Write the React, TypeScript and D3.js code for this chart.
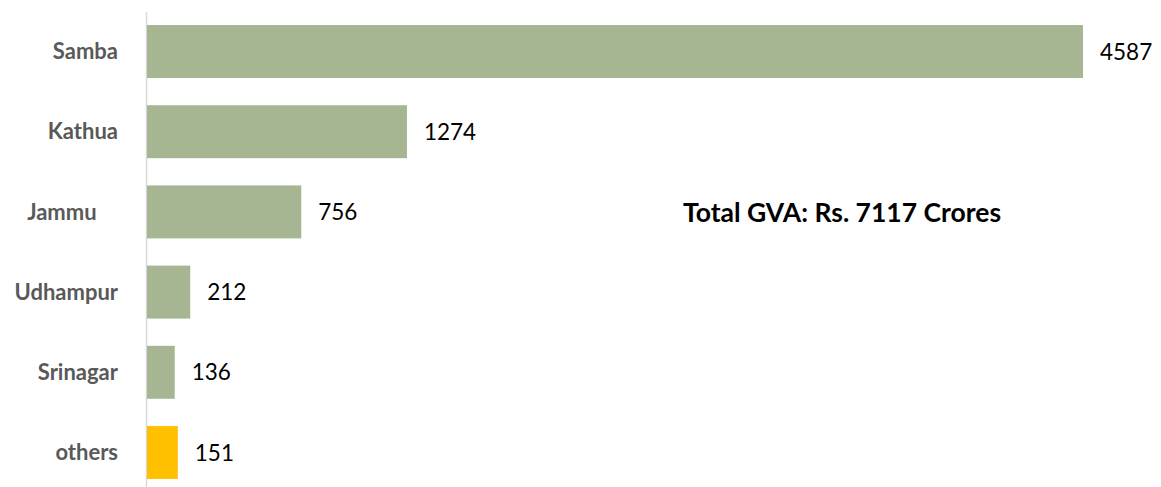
import React from "react";
import * as d3 from "d3";

const categories = ["Samba", "Kathua", "Jammu    ", "Udhampur", "Srinagar", "others"];
const values = [4587, 1274, 756, 212, 136, 151];
const barColors = ["#A6B592", "#A6B592", "#A6B592", "#A6B592", "#A6B592", "#FFC000"];
const totalLabel = "Total GVA: Rs. 7117 Crores";

const W = 1161;
const H = 487;

export default function App() {
  const x0 = 147;
  const x = d3.scaleLinear().domain([0, 4587]).range([x0, 1083]);
  const y = d3.scaleBand<string>().domain(categories).range([11.4, 492.6]).paddingInner(0.34).paddingOuter(0.17);
  const font = "Lato, 'Open Sans', sans-serif";
  return (
    <svg width={W} height={H} style={{ position: "absolute", left: 0, top: 0, background: "#fff" }}>
      <line x1={x0 - 0.5} x2={x0 - 0.5} y1={12} y2={H} stroke="#D9D9D9" strokeWidth={1.5} />
      {categories.map((c, i) => {
        const yy = y(c)!;
        const bw = y.bandwidth();
        return (
          <g key={c}>
            <rect x={x0} y={yy} width={x(values[i]) - x0} height={bw} fill={barColors[i]} />
            <text x={118} y={yy + bw / 2} dy="0.35em" textAnchor="end" fontFamily={font} fontWeight={700} fontSize={22} fill="#595959" style={{ whiteSpace: "pre" }}>
              {c}
            </text>
            <text x={x(values[i]) + 17} y={yy + bw / 2} dy="0.36em" fontFamily={font} fontSize={22.5} fill="#000">
              {values[i]}
            </text>
          </g>
        );
      })}
      <text x={683} y={213} dy="0.35em" fontFamily={font} fontWeight={700} fontSize={26.5} fill="#000">
        {totalLabel}
      </text>
    </svg>
  );
}
